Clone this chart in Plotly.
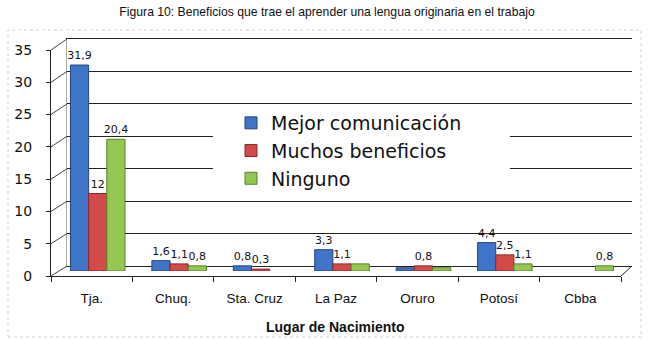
import plotly.graph_objects as go

categories = ["Tja.", "Chuq.", "Sta. Cruz", "La Paz", "Oruro", "Potosí", "Cbba"]
mejor = [31.9, 1.6, 0.8, 3.3, 0.5, 4.4, None]
muchos = [12, 1.1, 0.3, 1.1, 0.8, 2.5, None]
ninguno = [20.4, 0.8, None, 1.1, 0.5, 1.1, 0.8]
mejor_lbl = ["31,9", "1,6", "0,8", "3,3", "", "4,4", ""]
muchos_lbl = ["12", "1,1", "0,3", "1,1", "0,8", "2,5", ""]
ninguno_lbl = ["20,4", "0,8", "", "", "", "1,1", "0,8"]
y_ticks = [0, 5, 10, 15, 20, 25, 30, 35]

series = [
    ("Mejor comunicación", mejor, mejor_lbl, "#3F74C8", "#24457F"),
    ("Muchos beneficios", muchos, muchos_lbl, "#D24B48", "#8A2A28"),
    ("Ninguno", ninguno, ninguno_lbl, "#94C853", "#58802B"),
]

W, H = 658, 340
L, R, T, B = 51, 26, 39, 64
PW, PH = W - L - R, H - T - B

def px_x(p):
    return (p - L) / PW

def px_y(p):
    return (H - B - p) / PH

fig = go.Figure()

# back wall (gridlines) subplot
fig.add_trace(go.Scatter(x=[categories[0]], y=[0], mode="markers",
                         marker=dict(opacity=0), showlegend=False,
                         hoverinfo="skip", xaxis="x", yaxis="y"))
# front axes subplot
fig.add_trace(go.Scatter(x=[categories[0]], y=[0], mode="markers",
                         marker=dict(opacity=0), showlegend=False,
                         hoverinfo="skip", xaxis="x2", yaxis="y2"))

for name, vals, lbls, col, dark in series:
    fig.add_trace(go.Bar(
        x=categories, y=vals, name=name, text=lbls,
        textposition="outside", cliponaxis=False, constraintext="none",
        textfont=dict(family="DejaVu Sans", size=11, color="#111"),
        marker=dict(color=col, line=dict(color=dark, width=1)),
        xaxis="x3", yaxis="y3",
    ))

# slanted connectors between front axis and back wall (3D look)
shapes = []
for v in y_ticks:
    shapes.append(dict(type="line", xref="paper", yref="paper",
                       x0=px_x(51), x1=px_x(67),
                       y0=px_y(276 - v * 226 / 35), y1=px_y(266 - v * 227 / 35),
                       line=dict(color="#444", width=1)))
shapes.append(dict(type="line", xref="paper", yref="paper",
                   x0=px_x(621), x1=px_x(632), y0=px_y(276), y1=px_y(266),
                   line=dict(color="#222", width=1)))
shapes.append(dict(type="rect", xref="paper", yref="paper",
                   x0=px_x(213), x1=px_x(510), y0=px_y(190), y1=px_y(110),
                   fillcolor="white", line=dict(width=0), layer="above"))
shapes.append(dict(type="rect", xref="paper", yref="paper",
                   x0=px_x(8), x1=px_x(641), y0=px_y(337), y1=px_y(30),
                   line=dict(color="#cfcfcf", width=1, dash="dot"), layer="below"))

hidden = dict(showticklabels=False, showgrid=False, zeroline=False,
              showline=False, ticks="")

fig.update_layout(
    width=W, height=H,
    margin=dict(l=L, r=R, t=T, b=B),
    paper_bgcolor="white", plot_bgcolor="rgba(0,0,0,0)",
    barmode="group", bargap=0.33, bargroupgap=0,
    title=dict(text="Figura 10: Beneficios que trae el aprender una lengua originaria en el trabajo",
               x=0.497, xref="container", xanchor="center",
               y=1 - 12 / H, yref="container", yanchor="middle",
               font=dict(family="Liberation Sans", size=12.2, color="#111")),
    xaxis=dict(domain=[px_x(67), 1], range=[-0.5, 6.5], type="category",
               categoryarray=categories, showticklabels=False, showgrid=False,
               zeroline=False, showline=True, mirror=True, linecolor="#222",
               linewidth=1, ticks=""),
    yaxis=dict(domain=[px_y(266), 1], range=[0, 35], tickvals=y_ticks,
               showticklabels=False, showgrid=True, gridcolor="#222", gridwidth=1,
               zeroline=False, showline=True, linecolor="#aaa", linewidth=1, ticks=""),
    xaxis2=dict(domain=[0, px_x(621)], range=[-0.5, 6.5], type="category",
                categoryarray=categories, anchor="y2", showgrid=False,
                showline=True, linecolor="#222", linewidth=1,
                ticks="outside", ticklen=5, tickcolor="#222", tickson="boundaries",
                ticklabelstandoff=10,
                tickfont=dict(family="Liberation Sans", size=13.5, color="#111")),
    yaxis2=dict(domain=[0, px_y(50)], range=[0, 35], tickvals=y_ticks, anchor="x2",
                showgrid=False, zeroline=False, showline=True, linecolor="#222",
                linewidth=1, ticks="outside", ticklen=4, tickcolor="#222",
                ticklabelstandoff=11,
                tickfont=dict(family="DejaVu Sans", size=14, color="#111")),
    xaxis3=dict(domain=[px_x(57), px_x(627)], range=[-0.5, 6.5], type="category",
                categoryarray=categories, anchor="y3", **hidden),
    yaxis3=dict(domain=[px_y(271), px_y(45)], range=[0, 35], anchor="x3", **hidden),
    legend=dict(x=px_x(231), y=px_y(104), xanchor="left", yanchor="top",
                bgcolor="rgba(255,255,255,0)", borderwidth=0,
                font=dict(family="DejaVu Sans", size=19, color="#111"),
                itemwidth=30, tracegroupgap=0),
    showlegend=True,
    annotations=[dict(text="<b>Lugar de Nacimiento</b>", xref="paper", yref="paper",
                      x=px_x(335), y=px_y(327), xanchor="center", yanchor="middle",
                      showarrow=False,
                      font=dict(family="Liberation Sans", size=14, color="#111"))],
    shapes=shapes,
)

fig.write_html("out.html")
